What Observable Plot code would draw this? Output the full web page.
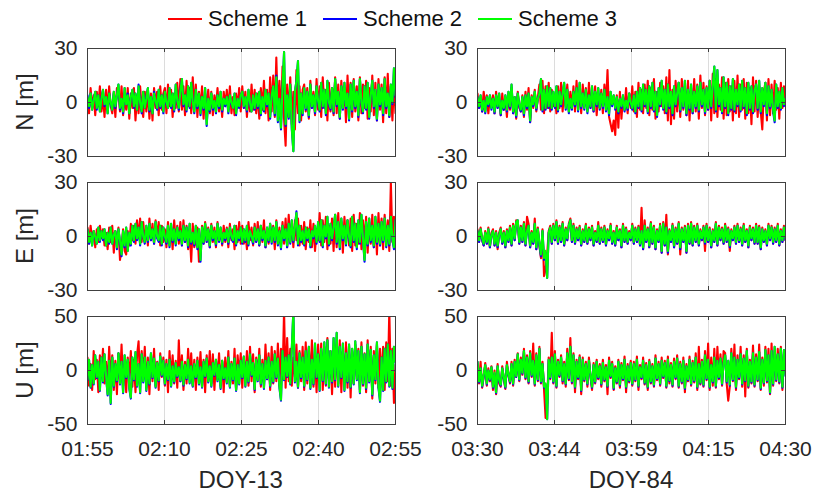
<!DOCTYPE html>
<html><head><meta charset="utf-8">
<script src="https://cdn.jsdelivr.net/npm/d3@7"></script>
<script src="https://cdn.jsdelivr.net/npm/@observablehq/plot@0.6"></script>
<style>
body{margin:0;background:#fff;font-family:"Liberation Sans",Arial,sans-serif;}
#wrap{position:relative;width:814px;height:493px;overflow:hidden;background:#fff;}
.abs{position:absolute;}
.ylab{position:absolute;font-size:24px;color:#262626;transform:translate(-50%,-50%) rotate(-90deg);white-space:nowrap;}
.xlab{position:absolute;font-size:24px;color:#262626;transform:translate(-50%,-50%);white-space:nowrap;}
.leg{position:absolute;font-size:22px;color:#111;white-space:nowrap;}
</style></head><body><div id="wrap"></div>
<script>
const schemes = ["Scheme 1","Scheme 2","Scheme 3"];
const colors = ["#ff0000","#0000ff","#00ff00"];
const xTicksDOY13 = ["01:55","02:10","02:25","02:40","02:55"];
const xTicksDOY84 = ["03:30","03:44","03:59","04:15","04:30"];
const tickMinutes = [0,15,30,45,60];
const yLabels = ["N [m]","E [m]","U [m]"];
const dayTitles = ["DOY-13","DOY-84"];

// ---------- DOY-13 North ----------
const n13s1 = [2,-6,8,-3,4,-7,6,-2,9,-5, 3,-8,7,-4,9,-2,-6,5,-8,8, 6,-5,9,-7,3,-4,8,-9,5,-3, 8,-10,4,-6,9,-3,-8,6,-5,7,
 -9,5,-10,8,-3,6,-7,9,-4,5, 8,-6,10,-2,7,-8,5,-3,11,-5, 13,-4,9,-7,12,-2,8,-6,14,-3, 10,-8,6,-4,9,-9,5,-3,7,-6,
 6,-7,4,-3,8,-5,3,-8,6,-2, 7,-4,9,-6,3,-7,5,-3,8,-5, 9,-3,6,-8,4,-5,10,-4,7,-6, 5,-9,8,-4,12,-6,7,-10,14,-5,
 15,-8,25,-6,12,-10,20,-9,-24,10, -8,14,-12,6,-15,18,-6,9,-10,7, 10,-5,8,-9,12,-3,6,-7,13,-4, 9,-8,14,-3,7,-10,11,-5,8,-7,
 14,-6,10,-9,12,-3,8,-11,15,-4, 11,-8,13,-5,9,-10,14,-6,10,-3, 12,-9,8,-5,15,-7,11,-10,13,-4, 10,-11,14,-6,16,-8,9,-10,12,-6];
const n13s2 = [4,-3,5,-4,2,6,-4,4,-5,3, 7,-2,3,-6,5,-1,-4,6,-3,4, 10,-4,2,-6,8,-1,5,-6,3,7, -3,5,-4,10,0,-6,6,-3,3,8,
 -5,3,-6,6,1,-4,7,-3,4,-6, 6,-1,-3,8,-3,5,-5,10,1,-4, 7,13,-2,4,-5,9,-3,11,0,-6, 7,-3,5,-7,3,-4,8,-13,2,-5,
 5,-4,1,-6,4,-3,6,-5,2,-2, 3,-6,4,-1,-3,5,-7,2,-3,4, 6,-3,3,-5,7,-1,-5,4,-4,5, -3,6,-7,3,-5,7,-2,5,-9,4,
 9,-7,15,-11,2,-15,8,28,-13,4, -9,10,-15,-27,6,12,23,-11,5,-7, 8,-4,6,-8,10,-3,4,-6,9,0, -5,11,-3,7,-7,12,-1,-4,8,-6,
 13,-2,6,-9,9,-4,11,-3,5,-10, 10,-5,12,-3,6,-8,13,-1,-6,9, -4,11,-9,4,12,-3,7,-10,10,-2, 8,-7,13,-3,5,-8,10,-1,19,3];
const n13s3 = [3,-2,5,-4,1,6,-3,4,-5,2, 7,-1,3,-6,5,0,-4,6,-2,4, 10,-3,2,-5,8,-1,4,-6,3,7, -2,5,-4,9,0,-5,6,-3,2,8,
 -4,3,-6,5,1,-3,7,-2,4,-5, 6,0,-3,8,-2,5,-4,10,1,-3, 6,13,-1,4,-4,9,-2,11,0,-5, 7,-2,5,-6,3,-3,8,-12,2,-4,
 5,-3,1,-5,4,-2,6,-4,2,-1, 3,-5,4,0,-3,5,-6,2,-2,4, 6,-2,3,-4,7,0,-5,4,-3,5, -2,6,-6,3,-4,7,-1,5,-8,4,
 9,-6,14,-10,2,-14,8,28,-12,4, -8,10,-14,-27,6,12,23,-10,5,-6, 8,-3,6,-7,10,-2,4,-5,9,1, -4,11,-2,7,-6,12,0,-3,8,-5,
 13,-1,6,-8,9,-3,11,-2,5,-9, 10,-4,12,-2,6,-7,13,0,-5,9, -3,11,-8,4,12,-2,7,-9,10,-1, 8,-6,13,-2,5,-7,10,0,19,4];

// ---------- DOY-13 East ----------
const e13s1 = [5,-4,6,-2,3,-6,4,-3,6,-1, 4,-5,2,-7,5,-3,6,-9,3,-4, 5,-13,-6,4,-8,-10,3,-5,7,-2, 6,-4,9,-1,10,-3,8,-2,5,-5,
 10,-2,7,-4,9,0,8,-5,6,-3, 4,-6,8,-2,5,-7,9,-3,6,-4, 8,-5,9,-3,6,-7,4,-14,7,-6, -2,5,-14,-9,6,-4,8,-3,5,-6,
 7,-3,5,-6,8,-2,4,-5,6,-3, 5,-6,7,-2,4,-7,6,-3,8,-4, 6,-4,3,-7,8,-2,5,-5,7,-3, 8,-5,6,-3,9,-6,4,-4,7,-2,
 6,-7,9,-3,5,-5,8,-4,10,-6, 12,-3,7,-6,9,-2,10,-5,6,-4, 8,-7,5,-3,9,-6,7,-8,4,-2, 13,-5,9,-3,11,-7,6,-4,10,-8,
 12,-6,13,-4,8,-9,11,-3,9,-5, 10,-8,12,-5,7,-4,13,-7,9,-3, 11,-9,8,-4,12,-6,9,-10,13,-5, 10,-7,12,-4,9,-8,30,-3,11,5];
const e13s2 = [4,-4,2,-5,3,-1,-4,5,-3,3, -2,4,-5,2,-4,5,-4,1,3,-7, 4,-3,-11,3,-6,5,-8,2,-5,6, -3,7,-2,5,-5,8,0,-4,6,-3,
 7,-2,4,-4,8,-1,-3,6,-5,5, -1,-4,6,-6,7,-3,4,-5,5,-2, 3,-5,6,-3,5,-6,7,-4,2,-5, 6,-7,4,-14,5,-4,7,-3,4,-6,
 6,-2,3,-5,7,-3,5,-4,2,-2, 4,-4,5,-1,-3,6,-5,3,-2,5, -4,4,-3,6,-5,3,-1,-4,5,-3, 4,-5,6,-2,3,-6,5,-3,7,-4,
 5,-3,8,-5,3,-7,6,-2,4,-6, 7,-4,9,-3,5,14,-5,6,-3,3, -5,5,-2,4,-6,3,-1,6,-4,8, -3,9,-6,6,-1,11,-5,7,-2,5,
 12,-4,8,-7,10,-2,6,-5,9,-1, -6,11,-3,7,-7,9,-4,12,-2,-14, 8,-5,10,-3,6,-6,11,-4,7,-5, 8,-3,10,-6,6,-5,11,-2,-7,9];
const e13s3 = [4,-3,2,-5,3,0,-4,5,-2,3, -1,4,-5,2,-3,5,-4,1,3,-6, 4,-2,-10,3,-5,5,-8,2,-4,6, -2,7,-1,5,-4,8,0,-3,6,-2,
 7,-1,4,-3,8,0,-2,6,-4,5, 0,-3,6,-5,7,-2,4,-4,5,-1, 3,-4,6,-2,5,-5,7,-3,2,-4, 6,-6,4,-13,5,-3,7,-2,4,-5,
 6,-1,3,-4,7,-2,5,-3,2,-1, 4,-3,5,0,-2,6,-4,3,-1,5, -3,4,-2,6,-4,3,0,-3,5,-2, 4,-4,6,-1,3,-5,5,-2,7,-3,
 5,-2,8,-4,3,-6,6,-1,4,-5, 7,-3,9,-2,5,13,-4,6,-2,3, -4,5,-1,4,-5,3,0,6,-3,8, -2,9,-5,6,0,11,-4,7,-1,5,
 12,-3,8,-6,10,-1,6,-4,9,0, -5,11,-2,7,-6,9,-3,12,-1,-13, 8,-4,10,-2,6,-5,11,-3,7,-4, 8,-2,10,-5,6,-4,11,-1,-6,9];

// ---------- DOY-13 Up ----------
const u13s1 = [12,-14,6,-18,18,-8,10,-20,14,-6, 20,-12,8,-16,22,-10,14,-18,9,-22, 16,-10,24,-14,6,-20,12,-8,18,-15, 10,-20,14,27,-12,18,-8,22,-16,12,
 -22,15,-10,20,-14,8,-18,16,-6,12, -14,10,-20,18,-8,14,-12,9,-16,28, -10,14,-18,8,-12,20,-6,16,-14,10, -18,12,-8,17,-15,10,-20,14,-6,18,
 -12,15,-18,10,-8,16,-14,9,-20,12, -10,18,-15,8,-12,20,-18,14,-6,16, -16,12,-8,18,-14,22,-10,15,-20,12, -6,20,-15,10,-12,24,-8,16,-18,22,
 -12,18,-10,25,-14,20,-8,55,-16,30, -10,20,-14,12,-6,24,-16,18,-10,22, -18,26,-12,20,-8,28,-15,16,-20,24, -10,25,-18,22,-14,30,-8,18,-22,20,
 -15,24,-12,28,-20,18,-10,26,-16,22, -25,18,-12,24,-8,20,-18,26,-14,16, -20,28,-10,22,-26,18,-12,24,-16,20, -12,22,-18,26,-10,55,-14,20,-30,5];
const u13s2 = [-9,10,-16,5,-13,14,-7,8,-19,12, -11,15,-6,-23,9,-31,12,-15,6,-10, 16,-13,8,-21,14,-7,10,-17,-26,12, -9,17,-15,6,-21,15,-11,12,-19,8,
 -13,16,-7,11,-16,7,-10,13,-5,9, -13,6,-9,10,-15,4,-11,7,-6,3, -10,8,-14,5,-8,10,-12,4,-15,6, -7,9,-13,3,-16,8,-6,11,-11,4,
 -15,7,-5,10,-10,5,-17,9,-8,2, -12,12,-16,6,-9,11,-19,5,-13,9, -7,13,-15,8,-11,15,-5,7,-18,10, -10,14,-13,6,-17,9,-8,12,-15,8,
 -11,15,-7,11,-16,-28,18,-9,12,-6, 14,-13,20,55,-11,8,-16,16,-7,12, -15,18,-9,22,-17,10,-13,25,-7,15, -19,20,-10,26,-13,28,-16,18,-11,30,
 -9,35,-15,22,-7,25,-19,16,-11,24, -16,20,-13,27,-9,18,-21,22,-13,15, -17,24,-11,19,-23,14,-9,26,-16,-29, 12,-19,20,-11,24,-15,18,-17,22,8];
const u13s3 = [-8,10,-15,5,-12,14,-6,8,-18,12, -10,15,-5,-22,9,-30,12,-14,6,-9, 16,-12,8,-20,14,-6,10,-16,-25,12, -8,17,-14,6,-20,15,-10,12,-18,8,
 -12,16,-6,11,-15,7,-9,13,-4,9, -12,6,-8,10,-14,4,-10,7,-5,3, -9,8,-13,5,-7,10,-11,4,-14,6, -6,9,-12,3,-15,8,-5,11,-10,4,
 -14,7,-4,10,-9,5,-16,9,-7,2, -11,12,-15,6,-8,11,-18,5,-12,9, -6,13,-14,8,-10,15,-4,7,-17,10, -9,14,-12,6,-16,9,-7,12,-14,8,
 -10,15,-6,11,-15,-27,18,-8,12,-5, 14,-12,20,55,-10,8,-15,16,-6,12, -14,18,-8,22,-16,10,-12,25,-6,15, -18,20,-9,26,-12,28,-15,18,-10,30,
 -8,35,-14,22,-6,25,-18,16,-10,24, -15,20,-12,27,-8,18,-20,22,-12,15, -16,24,-10,19,-22,14,-8,26,-15,-28, 12,-18,20,-10,24,-14,18,-16,22,8];

// ---------- DOY-84 North ----------
const n84s1 = [5,-3,2,-5,6,-2,4,-6,3,-1, 4,-6,6,-3,2,-7,5,-4,3,-8, 5,-4,8,-6,3,-9,6,-3,-5,4, -8,6,-4,8,-11,4,-3,7,-5,3,
 10,-4,12,-6,9,-3,11,-5,7,-2, 4,-6,9,-3,11,-5,8,-2,10,-4, 6,-3,9,-5,12,-4,7,-6,10,-2, 8,-4,11,-3,6,-5,9,-7,5,-3,
 7,-6,10,-2,18,-8,-12,-16,-10,-18, 4,-14,6,-9,3,-4,8,-6,5,-3, 9,-5,6,-8,11,-4,7,-6,10,-3, 12,-7,8,-4,13,-9,6,-5,11,-2,
 9,-6,14,-10,18,-12,7,-9,12,-5, 11,-8,13,-4,9,-7,12,-10,8,-6, 13,-5,10,-9,15,-3,11,-7,9,-4, 12,-10,16,-6,13,-8,10,-4,14,-9,
 11,-7,13,-5,9,-10,12,-6,15,-8, 10,-4,13,-9,11,-6,8,-12,14,-5, 12,-8,9,-5,-15,6,11,-10,13,-7, 10,-6,12,-4,8,-9,11,-3,9,-2];
const n84s2 = [3,-3,4,-5,1,-6,3,-2,4,-4, 2,-6,4,-3,5,-7,1,-4,4,-5, 6,-3,10,-6,3,-8,5,-2,-5,3, -7,4,-3,5,-11,3,-2,6,-4,2,
 5,13,-5,7,-4,9,-3,8,-4,6, -3,9,-5,6,-2,5,11,-4,7,-6, 2,-4,6,-2,8,-5,11,-3,5,-4, 7,-6,4,-3,9,-5,6,-2,8,-4,
 5,-3,7,-5,3,-7,6,-2,4,-4, 3,-6,2,-3,4,-5,1,-4,5,-1, -4,4,-6,6,-3,8,-5,10,-2,7, -6,9,-3,11,-5,6,-8,8,-2,12,
 -4,7,-6,10,-3,6,-7,9,-2,5, 11,-5,8,-3,12,-7,7,-4,10,-6, 6,-3,9,-5,11,-2,7,-6,8,-4, 12,-3,9,20,-5,18,-2,8,-6,14,
 -3,11,-7,9,-4,13,-5,7,-2,10, -5,12,-3,8,-7,11,-4,9,-6,7, 10,-4,12,-6,8,-2,11,-7,9,-3, 7,-5,-11,10,-3,6,-4,8,-2,2];
const n84s3 = [3,-2,4,-4,1,-5,3,-1,4,-3, 2,-5,4,-2,5,-6,1,-3,4,-4, 6,-2,10,-5,3,-7,5,-1,-4,3, -6,4,-2,5,-10,3,-1,6,-3,2,
 5,13,-4,7,-3,9,-2,8,-3,6, -2,9,-4,6,-1,5,11,-3,7,-5, 2,-3,6,-1,8,-4,11,-2,5,-3, 7,-5,4,-2,9,-4,6,-1,8,-3,
 5,-2,7,-4,3,-6,6,-1,4,-3, 3,-5,2,-2,4,-4,1,-3,5,0, -3,4,-5,6,-2,8,-4,10,-1,7, -5,9,-2,11,-4,6,-7,8,-1,12,
 -3,7,-5,10,-2,6,-6,9,-1,5, 11,-4,8,-2,12,-6,7,-3,10,-5, 6,-2,9,-4,11,-1,7,-5,8,-3, 12,-2,9,20,-4,18,-1,8,-5,14,
 -2,11,-6,9,-3,13,-4,7,-1,10, -4,12,-2,8,-6,11,-3,9,-5,7, 10,-3,12,-5,8,-1,11,-6,9,-2, 7,-4,-10,10,-2,6,-3,8,-1,2];

// ---------- DOY-84 East ----------
const e84s1 = [4,-3,5,-2,-5,3,-4,5,-6,2, 4,-5,3,-7,2,5,-4,3,-6,4, -3,6,-5,7,-2,9,8,-4,6,-3, 8,-5,11,7,-6,3,-4,10,-7,5,
 -5,-12,4,-22,-18,-10,3,6,-4,7, -2,9,-4,6,-3,8,-5,5,-2,7, 10,-3,7,-4,5,-2,6,-5,4,-3, 7,-4,5,-2,6,-5,3,-3,8,-4,
 5,-3,6,-5,4,-2,7,-4,3,-5, 6,-2,4,-6,7,-3,5,-4,3,-2, 7,-4,5,-3,6,-5,16,-7,9,-3, 5,-6,8,-4,6,-7,4,-3,7,-9,
 8,-5,12,-10,4,-3,7,-6,5,-4, 8,-10,5,-3,6,-9,7,-4,8,-5, 6,-3,7,-5,4,-2,6,-8,7,-3, 5,-6,4,-3,8,-5,6,-2,5,-4,
 7,-3,5,-8,4,-2,6,-4,7,-3, 5,-5,7,-3,4,-6,6,-2,5,-4, 7,-4,6,-7,5,-3,4,-5,7,-2, 6,-4,5,-3,7,-5,4,-3,6,-2];
const e84s2 = [3,-3,4,-2,-5,2,-4,4,-6,1, 3,-5,2,-6,1,4,-4,2,-6,3, -3,5,-5,6,-2,8,9,-4,5,-3, 7,-5,3,6,-6,2,-4,7,-7,4,
 -5,-11,3,-13,-9,-23,2,5,-4,6, -2,8,-4,5,-3,7,-5,4,-2,6, 9,-3,6,-4,4,-2,5,-5,3,-3, 6,-4,4,-2,5,-5,2,-3,6,-4,
 4,-3,5,-5,3,-2,6,-4,2,-5, 5,-2,3,-6,6,-3,4,-4,2,-2, 6,-4,4,-3,5,-5,3,-7,6,-3, 4,-6,7,-4,5,-7,3,-3,6,-9,
 7,-5,5,-9,3,-3,6,-6,4,-4, 7,-7,4,-3,5,-9,6,-4,7,-5, 5,-3,6,-5,3,-2,5,-4,6,-3, 4,-6,3,-3,7,-5,5,-2,4,-4,
 6,-3,4,-6,3,-2,5,-4,6,-3, 4,-5,6,-3,3,-6,5,-2,4,-4, 6,-4,5,-7,4,-3,3,-5,6,-2, 5,-4,4,-3,6,-5,3,-3,5,-2];
const e84s3 = [3,-2,4,-1,-4,2,-3,4,-5,1, 3,-4,2,-5,1,4,-3,2,-5,3, -2,5,-4,6,-1,8,9,-3,5,-2, 7,-4,3,6,-5,2,-3,7,-6,4,
 -4,-10,3,-12,-8,-23,2,5,-3,6, -1,8,-3,5,-2,7,-4,4,-1,6, 9,-2,6,-3,4,-1,5,-4,3,-2, 6,-3,4,-1,5,-4,2,-2,6,-3,
 4,-2,5,-4,3,-1,6,-3,2,-4, 5,-1,3,-5,6,-2,4,-3,2,-1, 6,-3,4,-2,5,-4,3,-6,6,-2, 4,-5,7,-3,5,-6,3,-2,6,-8,
 7,-4,5,-8,3,-2,6,-5,4,-3, 7,-6,4,-2,5,-8,6,-3,7,-4, 5,-2,6,-4,3,-1,5,-3,6,-2, 4,-5,3,-2,7,-4,5,-1,4,-3,
 6,-2,4,-5,3,-1,5,-3,6,-2, 4,-4,6,-2,3,-5,5,-1,4,-3, 6,-3,5,-6,4,-2,3,-4,6,-1, 5,-3,4,-2,6,-4,3,-2,5,-1];

// ---------- DOY-84 Up ----------
const u84s1 = [5,-12,8,-16,-6,7,-14,2,-10,4, -18,0,-22,6,-12,-15,4,-8,-17,8, -5,-12,8,-14,10,-6,16,-10,12,-4, 20,-8,14,-12,18,-6,25,-14,16,-10,
 22,-12,8,-18,-44,-30,12,-8,35,-12, 18,-16,10,-6,14,-12,8,-15,20,-9, 30,-12,16,-20,10,-8,14,-22,12,-10, 8,-15,12,-6,-18,7,-12,10,-8,6,
 -15,10,-10,5,-22,12,-7,8,-18,4, -12,10,-16,7,-9,13,-20,6,-11,9, -14,8,-10,13,-18,5,-8,12,-13,7, -18,10,-12,6,-15,14,-9,8,-14,12,
 -7,9,-16,13,-12,7,-15,11,-8,14, -16,8,-12,12,-20,6,-10,13,-14,9, -11,16,-18,22,-13,10,-15,18,-9,25, -18,12,-14,20,-16,22,-8,15,-14,18,
 16,-12,-28,-15,20,-10,24,-18,14,-8, 22,-15,14,-24,20,-16,10,-12,23,-15, 15,-10,24,-18,12,-14,22,-11,20,-22, 25,-14,18,-10,20,-12,22,-18,15,5];
const u84s2 = [8,-11,2,-15,-5,5,-13,0,-9,3, -16,-3,-21,4,-10,-14,2,-7,-16,5, -4,-11,6,-13,8,-6,15,-9,10,-3, 18,-7,12,-11,16,-5,9,-13,14,-9,
 20,-11,6,-16,-13,-45,10,-7,12,-11, 15,-15,8,-5,12,-10,6,-13,16,-8, 22,-11,14,-16,8,-7,12,-19,10,-9, 6,-13,9,-5,-16,5,-11,8,-7,4,
 -13,7,-9,3,-15,9,-6,6,-17,2, -11,8,-14,5,-8,10,-16,4,-10,7, -13,6,-9,10,-15,3,-7,9,-12,5, -16,8,-11,4,-14,11,-8,6,-13,9,
 -6,7,-15,10,-10,5,-14,8,-7,11, -15,6,-11,9,-17,4,-9,10,-13,7, -10,12,-16,6,-12,8,-14,14,-8,10, -16,5,-11,12,-15,9,-7,11,-13,7,
 14,-11,9,-14,16,-9,12,-16,10,-7, 15,-13,11,-10,18,-15,8,-11,16,-14, 12,-9,17,-17,10,-12,19,-10,14,-21, 18,-13,22,-9,15,-11,20,-16,19,-5];
const u84s3 = [8,-10,2,-14,-4,5,-12,0,-8,3, -15,-2,-20,4,-9,-13,2,-6,-15,5, -3,-10,6,-12,8,-5,15,-8,10,-2, 18,-6,12,-10,16,-4,9,-12,14,-8,
 20,-10,6,-15,-12,-45,10,-6,12,-10, 15,-14,8,-4,12,-9,6,-12,16,-7, 22,-10,14,-15,8,-6,12,-18,10,-8, 6,-12,9,-4,-15,5,-10,8,-6,4,
 -12,7,-8,3,-14,9,-5,6,-16,2, -10,8,-13,5,-7,10,-15,4,-9,7, -12,6,-8,10,-14,3,-6,9,-11,5, -15,8,-10,4,-13,11,-7,6,-12,9,
 -5,7,-14,10,-9,5,-13,8,-6,11, -14,6,-10,9,-16,4,-8,10,-12,7, -9,12,-15,6,-11,8,-13,14,-7,10, -15,5,-10,12,-14,9,-6,11,-12,7,
 14,-10,9,-13,16,-8,12,-15,10,-6, 15,-12,11,-9,18,-14,8,-10,16,-13, 12,-8,17,-16,10,-11,19,-9,14,-20, 18,-12,22,-8,15,-10,20,-15,19,-4];

const wrap = document.getElementById("wrap");
const FONT = "'Liberation Sans', Arial, sans-serif";
const W = 308, H = 108, mL = 80, mR = 6, mT = 8;

function panel(series, ymax, xlabels, bottom, left, top) {
  const n = series[0].length;
  const rows = arr => arr.map((v, i) => ({t: i * 60 / (n - 1), v}));
  const mB = bottom ? 70 : 8;
  const yT = [-ymax, 0, ymax];
  const axisCol = "#404040";
  const marks = [
    Plot.ruleX(tickMinutes.slice(1, 4), {stroke: "#dcdcdc", strokeWidth: 1}),
    ...series.map((s, k) => Plot.line(rows(s), {x: "t", y: "v", stroke: colors[k], strokeWidth: 2.1, clip: true})),
    Plot.ruleX(tickMinutes, {insetTop: H - 4, stroke: axisCol}),
    Plot.ruleX(tickMinutes, {insetBottom: H - 4, stroke: axisCol}),
    Plot.ruleY(yT, {insetRight: W - 4, stroke: axisCol}),
    Plot.ruleY(yT, {insetLeft: W - 4, stroke: axisCol}),
    Plot.frame({stroke: axisCol, strokeWidth: 1}),
    Plot.axisY({ticks: yT, tickSize: 0, tickPadding: 10, label: null, tickFormat: d => String(d), fontSize: 21, fill: "#262626"})
  ];
  if (bottom) marks.push(Plot.axisX({ticks: tickMinutes, tickSize: 0, tickPadding: 17, label: null,
    tickFormat: d => xlabels[tickMinutes.indexOf(d)], fontSize: 21, fill: "#262626"}));
  const chart = Plot.plot({
    width: mL + W + mR, height: mT + H + mB,
    marginLeft: mL, marginRight: mR, marginTop: mT, marginBottom: mB,
    style: {background: "transparent", fontFamily: FONT, fontSize: "21px", color: "#262626", overflow: "visible"},
    x: {domain: [0, 60], axis: null},
    y: {domain: [-ymax, ymax], axis: null},
    marks
  });
  chart.classList.add("abs");
  chart.style.left = (left - mL) + "px";
  chart.style.top = (top - mT) + "px";
  chart.style.maxWidth = "none";
  wrap.appendChild(chart);
}

const lefts = [86.7, 477];
const tops = [47.5, 181.5, 315.5];
panel([n13s1, n13s2, n13s3], 30, xTicksDOY13, false, lefts[0], tops[0]);
panel([e13s1, e13s2, e13s3], 30, xTicksDOY13, false, lefts[0], tops[1]);
panel([u13s1, u13s2, u13s3], 50, xTicksDOY13, true, lefts[0], tops[2]);
panel([n84s1, n84s2, n84s3], 30, xTicksDOY84, false, lefts[1], tops[0]);
panel([e84s1, e84s2, e84s3], 30, xTicksDOY84, false, lefts[1], tops[1]);
panel([u84s1, u84s2, u84s3], 50, xTicksDOY84, true, lefts[1], tops[2]);

yLabels.forEach((t, i) => {
  const d = document.createElement("div");
  d.className = "ylab"; d.textContent = t;
  d.style.left = "25px"; d.style.top = (tops[i] + H / 2) + "px";
  wrap.appendChild(d);
});
dayTitles.forEach((t, i) => {
  const d = document.createElement("div");
  d.className = "xlab"; d.textContent = t;
  d.style.left = (lefts[i] + W / 2) + "px"; d.style.top = "480px";
  wrap.appendChild(d);
});
const legX = [168, 323, 478];
schemes.forEach((s, i) => {
  const sw = document.createElementNS("http://www.w3.org/2000/svg", "svg");
  sw.setAttribute("width", 36); sw.setAttribute("height", 6);
  sw.style.position = "absolute"; sw.style.left = legX[i] + "px"; sw.style.top = "16px";
  sw.innerHTML = `<line x1="0" y1="3" x2="34" y2="3" stroke="${colors[i]}" stroke-width="2"/>`;
  wrap.appendChild(sw);
  const d = document.createElement("div");
  d.className = "leg"; d.textContent = s;
  d.style.left = (legX[i] + 40) + "px"; d.style.top = "6px";
  wrap.appendChild(d);
});
</script></body></html>
